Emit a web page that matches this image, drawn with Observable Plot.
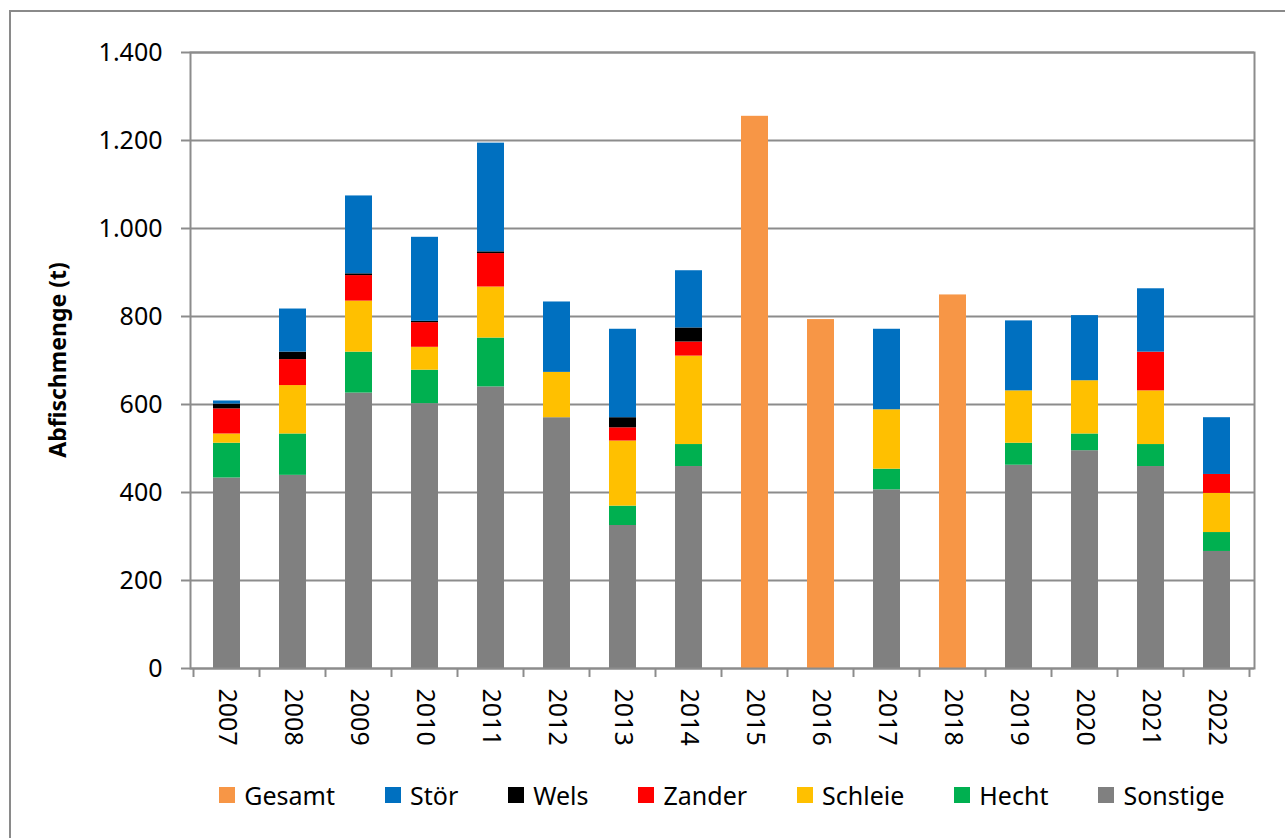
<!DOCTYPE html>
<html>
<head>
<meta charset="utf-8">
<script src="https://cdn.jsdelivr.net/npm/d3@7"></script>
<script src="https://cdn.jsdelivr.net/npm/@observablehq/plot@0.6"></script>
<style>
  html, body { margin: 0; padding: 0; background: #fff; overflow: hidden; }
  body { width: 1285px; height: 838px; position: relative; font-family: "Noto Sans", sans-serif; }
  #frame { position: absolute; left: 9px; top: 10px; width: 1400px; height: 1000px;
           border-top: 2px solid #8a8a8a; border-left: 2px solid #8a8a8a; box-sizing: border-box; }
  #chart { position: absolute; left: 0; top: 0; }
  #legend { position: absolute; left: 190px; width: 1064px; top: 780px; display: flex;
            justify-content: center; gap: 50px; font-size: 25px; color: #000; line-height: 30px; }
  .item { display: flex; align-items: center; }
  .sw { width: 16px; height: 16px; margin-right: 9px; }
</style>
</head>
<body>
<div id="frame"></div>
<div id="chart"></div>
<div id="legend"></div>
<script>
const years = ["2007","2008","2009","2010","2011","2012","2013","2014","2015","2016","2017","2018","2019","2020","2021","2022"];
const seriesNames = ["Gesamt","Stör","Wels","Zander","Schleie","Hecht","Sonstige"];
const seriesColors = ["#F79646","#0070C0","#000000","#FF0000","#FFC000","#00B050","#808080"];
const stackOrder = ["Sonstige","Hecht","Schleie","Zander","Wels","Stör","Gesamt"];

const sonstige = [433,439,626,602,640,570,325,459,0,0,406,0,462,495,459,266];
const hecht    = [79,94,93,76,111,0,44,50,0,0,47,0,50,38,50,43];
const schleie  = [21,110,116,52,116,103,148,201,0,0,135,0,119,121,122,89];
const zander   = [57,59,58,56,76,0,30,32,0,0,0,0,0,0,88,43];
const wels     = [11,17,4,3,4,0,23,32,0,0,0,0,0,0,0,0];
const stoer    = [7,98,177,191,247,160,201,130,0,0,183,0,159,148,144,129];
const gesamt   = [0,0,0,0,0,0,0,0,1255,793,0,849,0,0,0,0];
const yTicks = [0,200,400,600,800,1000,1200,1400];

const seriesValues = {
  "Sonstige": sonstige, "Hecht": hecht, "Schleie": schleie, "Zander": zander,
  "Wels": wels, "Stör": stoer, "Gesamt": gesamt
};

const rows = [];
for (const s of stackOrder) {
  seriesValues[s].forEach((v, i) => { if (v > 0) rows.push({year: years[i], series: s, value: v}); });
}

const de = d3.formatLocale({decimal: ",", thousands: ".", grouping: [3], currency: ["", " €"]}).format(",");
const gridColor = "#8c8c8c";

const chart = Plot.plot({
  width: 1285,
  height: 760,
  marginLeft: 190,
  marginRight: 31,
  marginTop: 52,
  marginBottom: 92,
  style: {fontFamily: "Noto Sans", fontSize: "25px", color: "#000", background: "transparent"},
  x: {type: "band", domain: years, paddingInner: 0.59, paddingOuter: 0.295},
  y: {domain: [0, 1400]},
  color: {domain: seriesNames, range: seriesColors},
  marks: [
    Plot.gridY(yTicks, {stroke: gridColor, strokeOpacity: 1, strokeWidth: 2}),
    Plot.barY(rows, {x: "year", y: "value", fill: "series", order: stackOrder}),
    Plot.frame({stroke: gridColor, strokeWidth: 2}),
    Plot.axisY(yTicks, {tickSize: 9, tickPadding: 19, tickFormat: de, label: null, stroke: gridColor, strokeWidth: 2, fill: "#000"}),
    Plot.axisX({tickRotate: 90, tickSize: 0, tickPadding: 20, label: null, fill: "#000"})
  ]
});

// x ticks at band boundaries, computed from Plot's x scale
const xs = chart.scale("x");
const ys = chart.scale("y");
const step = xs.step;
const inner = step - xs.bandwidth;
const bounds = years.map(y => xs.apply(y) - inner / 2);
bounds.push(xs.apply(years[years.length - 1]) + xs.bandwidth + inner / 2);
const y0 = ys.apply(0);
const svg = d3.select(chart);
svg.append("g").selectAll("line").data(bounds).join("line")
  .attr("x1", d => d).attr("x2", d => d)
  .attr("y1", y0).attr("y2", y0 + 9)
  .attr("stroke", gridColor).attr("stroke-width", 2);

// y axis title
svg.append("text")
  .attr("transform", `translate(57,${(ys.apply(0) + ys.apply(1400)) / 2}) rotate(-90)`)
  .attr("text-anchor", "middle")
  .attr("dominant-baseline", "central")
  .attr("font-family", "Noto Sans")
  .attr("font-weight", "bold")
  .attr("font-size", 23)
  .text("Abfischmenge (t)");

document.getElementById("chart").appendChild(chart);

// legend
const legend = document.getElementById("legend");
seriesNames.forEach((name, i) => {
  const it = document.createElement("div");
  it.className = "item";
  const sw = document.createElement("div");
  sw.className = "sw";
  sw.style.background = seriesColors[i];
  const tx = document.createElement("span");
  tx.textContent = name;
  it.appendChild(sw); it.appendChild(tx);
  legend.appendChild(it);
});
</script>
</body>
</html>
